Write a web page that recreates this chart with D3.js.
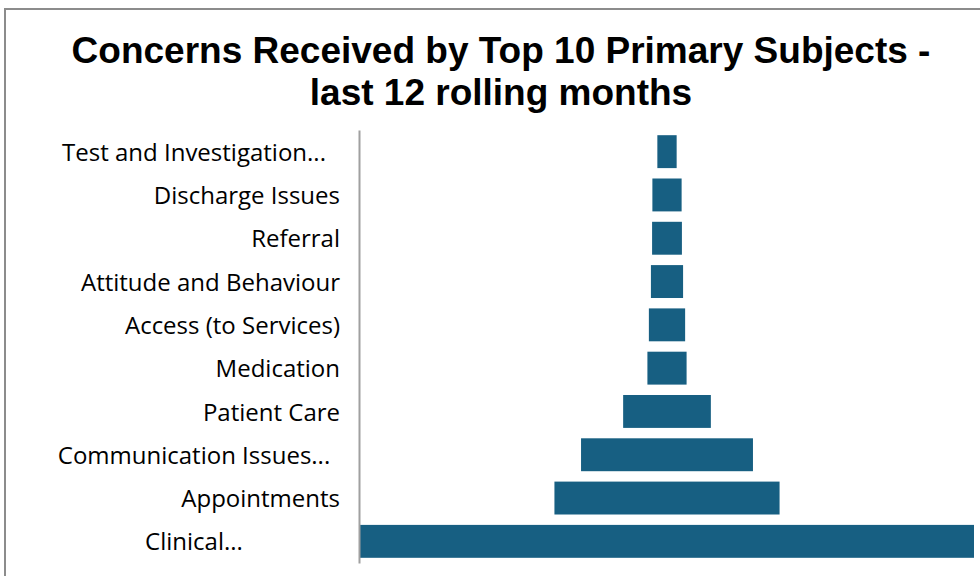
<!DOCTYPE html>
<html>
<head>
<meta charset="utf-8">
<script src="https://cdn.jsdelivr.net/npm/d3@7"></script>
<style>
  body { margin: 0; background: #fff; }
  svg { display: block; }
</style>
</head>
<body>
<svg id="chart" width="980" height="576"></svg>
<script>
// Top 10 primary subjects, top of the funnel first
const subjects = [
  "Test and Investigation...",
  "Discharge Issues",
  "Referral",
  "Attitude and Behaviour",
  "Access (to Services)",
  "Medication",
  "Patient Care",
  "Communication Issues...",
  "Appointments",
  "Clinical..."
];
const concerns = [33, 50, 51, 55, 62, 67, 150, 294, 385, 1050];
const titleLines = ["Concerns Received by Top 10 Primary Subjects -", "last 12 rolling months"];

const data = subjects.map((s, i) => ({ subject: s, value: concerns[i] }));

const svg = d3.select("#chart");
const W = 980, H = 576;

// Chart frame
svg.append("rect")
  .attr("x", 5).attr("y", 9)
  .attr("width", W + 20).attr("height", H + 20)
  .attr("fill", "#fff")
  .attr("stroke", "#8c8c8c")
  .attr("stroke-width", 2);

// Title
svg.append("text")
  .attr("x", 501).attr("y", 63)
  .attr("text-anchor", "middle")
  .attr("font-family", "'Liberation Sans', Arial, sans-serif")
  .attr("font-weight", "bold")
  .attr("font-size", 37)
  .attr("fill", "#000")
  .selectAll("tspan")
  .data(titleLines)
  .join("tspan")
  .attr("x", 501)
  .attr("dy", (d, i) => i === 0 ? 0 : 42)
  .text(d => d);

const plot = { left: 360, right: 974, top: 130, bottom: 563 };
const maxV = d3.max(concerns);

// Funnel: each bar centred on the middle of the plot
const x = d3.scaleLinear()
  .domain([-maxV / 2, maxV / 2])
  .range([plot.left, plot.right]);

const y = d3.scaleBand()
  .domain(subjects)
  .range([plot.top, plot.bottom])
  .paddingInner(0.24)
  .paddingOuter(0.12);

svg.append("g")
  .selectAll("rect")
  .data(data)
  .join("rect")
  .attr("x", d => x(-d.value / 2))
  .attr("width", d => x(d.value / 2) - x(-d.value / 2))
  .attr("y", d => y(d.subject))
  .attr("height", y.bandwidth())
  .attr("fill", "#175f82");

// Category axis
const labelBox = { left: 48, right: 340 };
const axis = svg.append("g")
  .attr("transform", `translate(${plot.left - 1},0)`)
  .call(d3.axisLeft(y).tickSize(0).tickSizeOuter(0).tickPadding(plot.left - 1 - labelBox.right));

axis.select(".domain")
  .attr("stroke", "#a0a0a0")
  .attr("stroke-width", 2);

axis.selectAll(".tick text")
  .attr("font-family", "'Open Sans', 'Noto Sans', sans-serif")
  .attr("font-size", 24)
  .attr("fill", "#000")
  .attr("dy", "0.38em")
  // truncated labels sit centred in the label area
  .each(function(d) {
    if (d.endsWith("...")) {
      d3.select(this)
        .attr("text-anchor", "middle")
        .attr("x", (labelBox.left + labelBox.right) / 2 - (plot.left - 1));
    }
  });
</script>
</body>
</html>
